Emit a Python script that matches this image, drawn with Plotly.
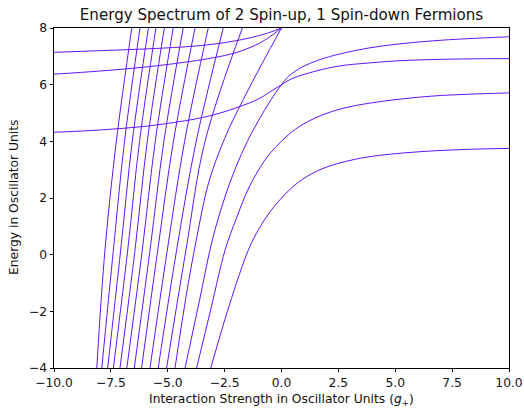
import plotly.graph_objects as go

# ---------------- data ----------------
# Steep (bound-state) branches that leave through the top edge:
# x positions where each branch crosses E = -4, 0.16, 4.0 and 8
steep_y_levels = [-4.0, 0.16, 4.0, 8.0]
steep_x_bottom = [-8.12, -7.90, -7.64, -7.39, -7.10, -6.80, -6.47, -6.15, -5.78, -5.42, -5.05]
steep_x_mid0 = [-7.76, -7.39, -7.07, -6.76, -6.44, -6.12, -5.78, -5.44, -5.02, -4.61, -4.20]
steep_x_mid4 = [-7.26, -6.90, -6.56, -6.24, -5.90, -5.55, -5.17, -4.75, -4.26, -3.75, -3.36]
steep_x_top = [-6.58, -6.22, -5.85, -5.52, -5.15, -4.76, -4.32, -3.80, -3.22, -2.56, -1.72]

# Branch rising into the E = 8 level at g = 0
b8_x = [-4.68, -4.20, -3.75, -3.20, -2.50, -1.70, -0.85, 0.0]
b8_y = [-4.0, -1.5, 0.5, 2.55, 4.1, 5.45, 6.75, 8.0]

# Branch into E = 6 at g = 0, continuing to the upper repulsive level
b6_x = [-4.24, -3.60, -3.04, -2.50, -2.00, -1.50, -1.00, -0.50, 0.0,
        0.30, 0.90, 1.60, 2.30, 3.80, 5.20, 6.70, 8.10, 10.0]
b6_y = [-4.0, -1.6, 0.52, 2.0, 3.1, 4.0, 4.75, 5.42, 6.0,
        6.29, 6.62, 6.86, 7.03, 7.29, 7.44, 7.55, 7.62, 7.69]

# Branch into E = 4 at g = 0
b4_x = [-3.73, -3.10, -2.48, -2.00, -1.50, -1.00, -0.50, 0.0,
        0.40, 0.90, 1.55, 2.28, 3.00, 3.74, 5.21, 6.67, 8.13, 10.0]
b4_y = [-4.0, -1.9, 0.16, 1.25, 2.25, 3.0, 3.58, 4.0,
        4.30, 4.58, 4.85, 5.07, 5.22, 5.33, 5.49, 5.60, 5.66, 5.71]

# Ground-state branch through E = 2 at g = 0
b2_x = [-3.11, -2.30, -1.46, -1.00, -0.50, 0.0, 0.50, 1.00, 1.69,
        2.43, 3.20, 3.89, 5.36, 6.82, 8.29, 10.0]
b2_y = [-4.0, -1.8, 0.16, 0.9, 1.52, 2.0, 2.40, 2.70, 3.00,
        3.21, 3.36, 3.46, 3.59, 3.67, 3.72, 3.75]

# Slowly varying attractive-side levels
flat_x = [-10.0, -8.0, -6.0, -4.0, -3.0, -2.0, -1.0, -0.5, 0.0]
flat1_y = [4.32, 4.40, 4.53, 4.76, 4.93, 5.18, 5.50, 5.75, 6.0]
flat2_y = [6.37, 6.48, 6.62, 6.82, 6.95, 7.13, 7.45, 7.70, 8.0]
flat3_y = [7.14, 7.20, 7.26, 7.35, 7.43, 7.55, 7.73, 7.85, 8.0]

# Lower repulsive level leaving E = 6 at g = 0
r6_x = [0.35, 0.90, 2.40, 3.90, 5.30, 6.80, 8.20, 10.0]
r6_y = [6.17, 6.34, 6.64, 6.77, 6.85, 6.89, 6.91, 6.92]

x_ticks = [-10.0, -7.5, -5.0, -2.5, 0.0, 2.5, 5.0, 7.5, 10.0]
x_tick_text = ["\u221210.0", "\u22127.5", "\u22125.0", "\u22122.5", "0.0", "2.5", "5.0", "7.5", "10.0"]
y_ticks = [-4, -2, 0, 2, 4, 6, 8]
y_tick_text = ["\u22124", "\u22122", "0", "2", "4", "6", "8"]

# ---------------- figure ----------------
LINE_COLOR = "rgb(95,20,255)"
LINE_W = 1.0

fig = go.Figure()

def add(xs, ys):
    fig.add_trace(go.Scatter(
        x=xs, y=ys, mode="lines",
        line=dict(color=LINE_COLOR, width=LINE_W, shape="spline", smoothing=1.0),
        hoverinfo="skip", showlegend=False))

for xb, x0, x4, xt in zip(steep_x_bottom, steep_x_mid0, steep_x_mid4, steep_x_top):
    add([xb, x0, x4, xt], steep_y_levels)

add(b8_x, b8_y)
add(b6_x, b6_y)
add(b4_x, b4_y)
add(b2_x, b2_y)
add(flat_x + r6_x, flat1_y + r6_y)
add(flat_x, flat2_y)
add(flat_x, flat3_y)

FONT = "DejaVu Sans"
LABEL_SIZE = 12.3
TEXT_COLOR = "#111"
fig.update_layout(
    width=524, height=408,
    margin=dict(l=54, r=15, t=28, b=40),
    paper_bgcolor="white", plot_bgcolor="white",
    font=dict(family=FONT, size=LABEL_SIZE, color=TEXT_COLOR),
    title=dict(text="Energy Spectrum of 2 Spin-up, 1 Spin-down Fermions",
               font=dict(family=FONT, size=15.1, color=TEXT_COLOR),
               x=0.5, xref="paper", xanchor="center",
               y=1 - 15 / 408, yref="container", yanchor="middle"),
)
axis_common = dict(showline=True, linecolor="black", linewidth=0.8, mirror=True,
                   showgrid=False, zeroline=False, ticks="outside", ticklen=3.5,
                   tickwidth=0.8, tickcolor="black", automargin=False,
                   tickfont=dict(family=FONT, size=LABEL_SIZE, color=TEXT_COLOR))
fig.update_xaxes(range=[-10, 10], tickvals=x_ticks, ticktext=x_tick_text, **axis_common)
fig.update_yaxes(range=[-4, 8], tickvals=y_ticks, ticktext=y_tick_text, **axis_common)

fig.add_annotation(text="Interaction Strength in Oscillator Units (<i>g</i><sub>+</sub>)",
                   xref="paper", yref="paper", x=0.5, y=-(400 - 368) / 340,
                   xanchor="center", yanchor="middle", showarrow=False,
                   font=dict(family=FONT, size=LABEL_SIZE, color=TEXT_COLOR))
fig.add_annotation(text="Energy in Oscillator Units",
                   xref="paper", yref="paper", x=(14 - 54) / 455, y=0.5,
                   xanchor="center", yanchor="middle", textangle=-90, showarrow=False,
                   font=dict(family=FONT, size=LABEL_SIZE, color=TEXT_COLOR))

fig.write_html("out.html",
               config={"displayModeBar": False},
               post_script="document.body.style.margin='0';"
                           "document.documentElement.style.overflow='hidden';")
